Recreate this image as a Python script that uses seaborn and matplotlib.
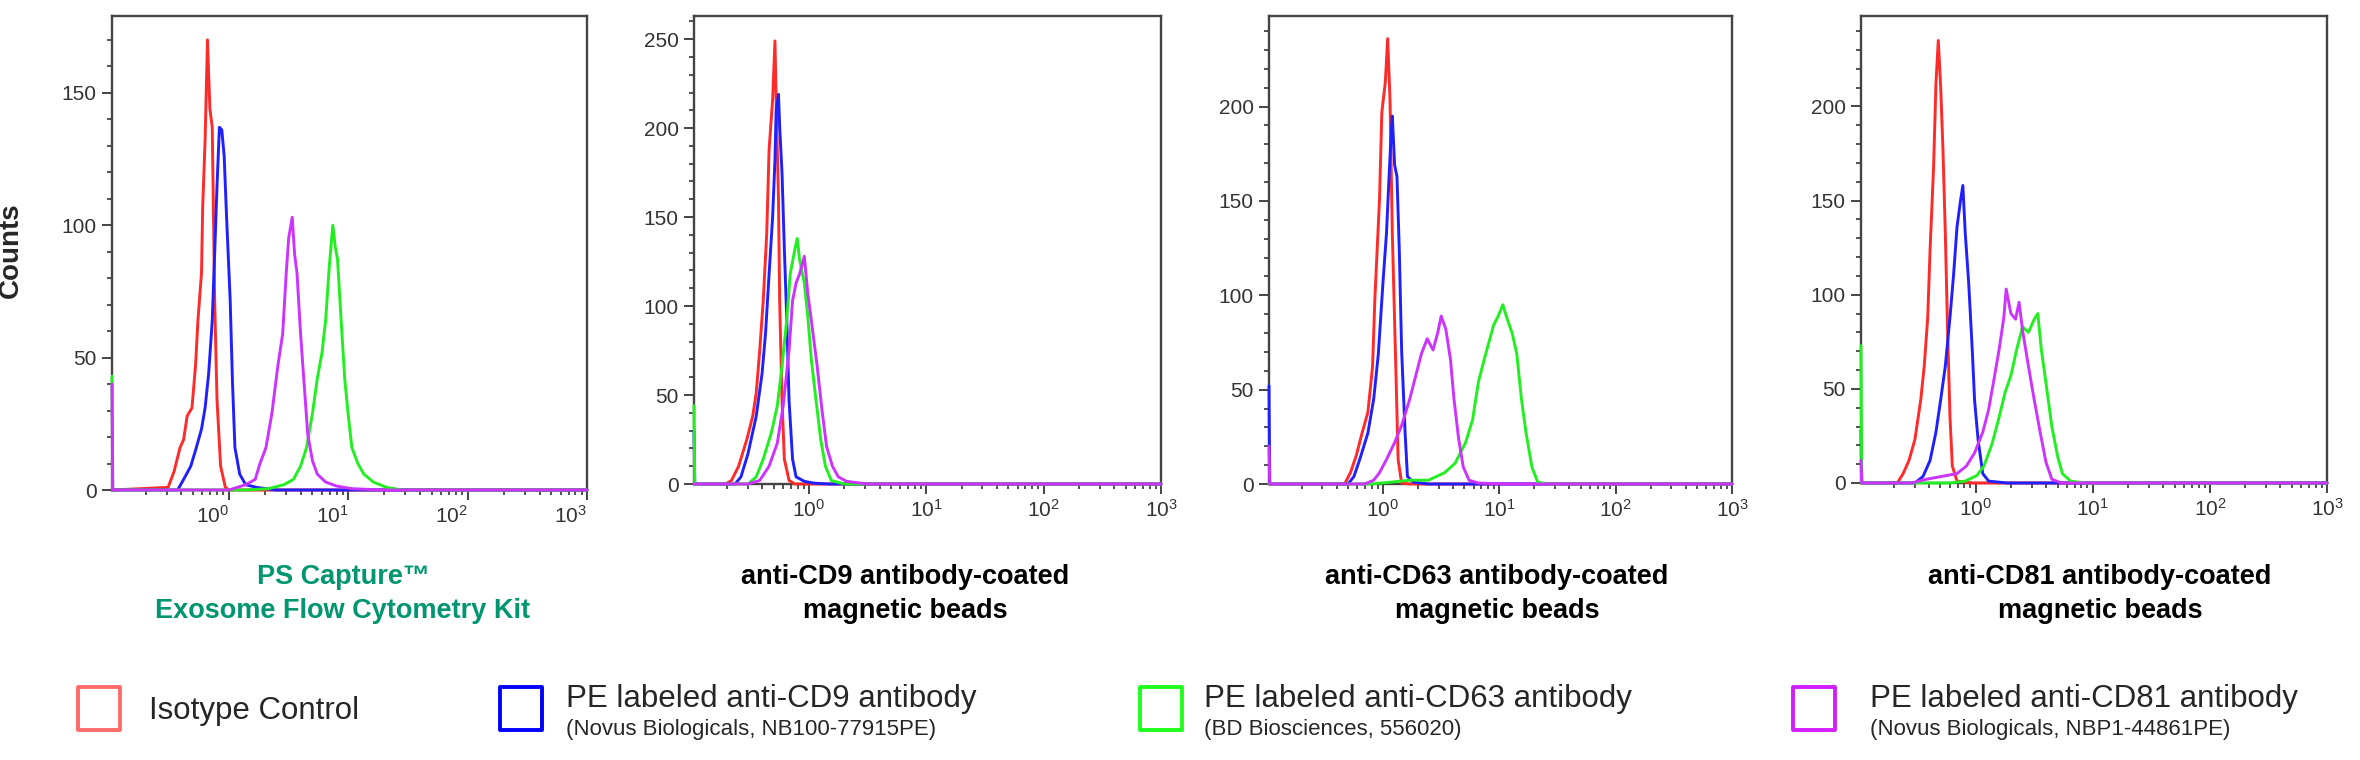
import matplotlib.pyplot as plt
from matplotlib.patches import Rectangle
from matplotlib.ticker import MultipleLocator
import numpy as np
import pandas as pd
import seaborn as sns

# --- data: log10(fluorescence) and counts ---
# panel 1: PS Capture kit
p1_iso_log = [-0.51, -0.46, -0.41, -0.38, -0.35, -0.31, -0.28, -0.26, -0.23, -0.22, -0.20, -0.18, -0.16, -0.14, -0.12, -0.10, -0.07, -0.03, 0.0]
p1_iso_cnt = [1, 7, 16, 19, 28, 31, 47, 64, 82, 107, 132, 170, 144, 137, 72, 34, 9, 1, 0]
p1_cd9_log = [-0.43, -0.38, -0.32, -0.28, -0.23, -0.20, -0.17, -0.14, -0.12, -0.10, -0.08, -0.06, -0.04, -0.02, 0.01, 0.03, 0.05, 0.09, 0.14, 0.23, 0.39, 0.65]
p1_cd9_cnt = [0, 4, 9, 15, 23, 31, 44, 64, 89, 115, 137, 136, 126, 103, 72, 40, 16, 6, 2, 1, 0, 0]
p1_cd63_log = [0.14, 0.33, 0.46, 0.54, 0.60, 0.65, 0.70, 0.74, 0.78, 0.81, 0.84, 0.87, 0.89, 0.91, 0.94, 0.97, 1.00, 1.03, 1.08, 1.13, 1.21, 1.32, 1.45, 1.61]
p1_cd63_cnt = [0, 0.5, 2, 4, 9, 16, 29, 42, 52, 64, 84, 100, 92, 87, 64, 42, 28, 16, 10, 6, 3, 1, 0, 0]
p1_cd81_log = [0.0, 0.14, 0.22, 0.26, 0.31, 0.36, 0.41, 0.45, 0.48, 0.50, 0.53, 0.55, 0.57, 0.60, 0.63, 0.66, 0.70, 0.74, 0.81, 0.90, 1.03, 1.29]
p1_cd81_cnt = [0, 2, 4, 10, 16, 29, 47, 59, 82, 95, 103, 89, 82, 59, 40, 21, 11, 6, 3, 1.5, 0.5, 0]
p1_edge = [0, 0, 43, 40]

# panel 2: anti-CD9 beads
p2_iso_log = [-0.71, -0.66, -0.60, -0.53, -0.48, -0.45, -0.42, -0.39, -0.36, -0.34, -0.31, -0.29, -0.28, -0.26, -0.25, -0.23, -0.21, -0.17, -0.12]
p2_iso_cnt = [0, 2, 10, 25, 38, 51, 75, 103, 141, 188, 216, 249, 216, 160, 103, 47, 14, 2, 0]
p2_cd9_log = [-0.63, -0.58, -0.52, -0.45, -0.40, -0.37, -0.34, -0.31, -0.29, -0.28, -0.26, -0.25, -0.23, -0.21, -0.19, -0.17, -0.14, -0.11, -0.04, 0.04, 0.17]
p2_cd9_cnt = [0, 4, 17, 38, 62, 85, 118, 150, 182, 210, 219, 201, 175, 132, 94, 47, 14, 4, 1.5, 0.5, 0]
p2_cd63_log = [-0.52, -0.45, -0.39, -0.32, -0.27, -0.23, -0.19, -0.16, -0.12, -0.10, -0.08, -0.04, -0.01, 0.02, 0.06, 0.10, 0.14, 0.19, 0.30]
p2_cd63_cnt = [0, 4, 14, 29, 44, 66, 92, 118, 132, 138, 126, 113, 94, 70, 47, 25, 10, 2, 0]
p2_cd81_log = [-0.52, -0.42, -0.34, -0.27, -0.22, -0.17, -0.14, -0.11, -0.08, -0.04, -0.01, 0.02, 0.07, 0.11, 0.15, 0.20, 0.25, 0.32, 0.50]
p2_cd81_cnt = [0, 2, 10, 23, 44, 75, 103, 113, 118, 128, 107, 92, 66, 42, 21, 10, 4, 1.5, 0]
p2_edge = [0, 30, 44, 0]

# panel 3: anti-CD63 beads
p3_iso_log = [-0.33, -0.28, -0.23, -0.18, -0.13, -0.09, -0.07, -0.03, -0.01, 0.02, 0.04, 0.06, 0.08, 0.11, 0.13, 0.16, 0.23]
p3_iso_cnt = [0, 6, 15, 27, 38, 62, 98, 151, 197, 213, 236, 204, 133, 62, 13, 0.5, 0]
p3_cd9_log = [-0.30, -0.25, -0.20, -0.13, -0.08, -0.04, 0.0, 0.03, 0.05, 0.07, 0.08, 0.10, 0.12, 0.14, 0.16, 0.19, 0.21, 0.26, 0.39]
p3_cd9_cnt = [0, 4, 13, 27, 45, 69, 107, 133, 160, 186, 195, 169, 163, 124, 71, 27, 4, 1, 0]
p3_cd63_log = [-0.10, 0.07, 0.23, 0.39, 0.53, 0.62, 0.71, 0.77, 0.82, 0.87, 0.91, 0.95, 0.99, 1.03, 1.07, 1.11, 1.15, 1.19, 1.23, 1.28, 1.33, 1.41]
p3_cd63_cnt = [0, 1, 2, 2, 6, 11, 22, 34, 54, 66, 75, 84, 89, 95, 87, 80, 69, 45, 27, 9, 1, 0]
p3_cd81_log = [-0.16, -0.08, -0.03, 0.03, 0.10, 0.16, 0.23, 0.28, 0.33, 0.38, 0.43, 0.47, 0.50, 0.54, 0.58, 0.61, 0.65, 0.69, 0.74, 0.82, 1.05]
p3_cd81_cnt = [0, 2, 6, 13, 22, 31, 45, 57, 69, 77, 71, 80, 89, 82, 66, 45, 24, 9, 2, 0.5, 0]
p3_edge = [0, 52, 0, 20]

# panel 4: anti-CD81 beads
p4_iso_log = [-0.67, -0.62, -0.57, -0.52, -0.47, -0.44, -0.41, -0.39, -0.36, -0.34, -0.32, -0.30, -0.28, -0.26, -0.24, -0.22, -0.20, -0.16, -0.03]
p4_iso_cnt = [0, 5, 12, 23, 44, 62, 88, 124, 168, 212, 235, 211, 177, 133, 80, 35, 9, 1, 0]
p4_cd9_log = [-0.52, -0.45, -0.39, -0.34, -0.30, -0.26, -0.22, -0.19, -0.16, -0.13, -0.11, -0.09, -0.06, -0.03, -0.01, 0.02, 0.06, 0.11, 0.27]
p4_cd9_cnt = [0, 3.5, 12, 27, 44, 62, 88, 110, 136, 150, 158, 133, 106, 71, 44, 23, 5, 1, 0]
p4_cd63_log = [-0.22, -0.09, 0.01, 0.07, 0.14, 0.20, 0.25, 0.30, 0.35, 0.40, 0.45, 0.50, 0.53, 0.56, 0.60, 0.65, 0.70, 0.74, 0.81, 0.93]
p4_cd63_cnt = [0, 1, 4, 9, 21, 35, 48, 57, 71, 83, 80, 87, 90, 71, 53, 30, 14, 5, 1, 0]
p4_cd81_log = [-0.55, -0.42, -0.29, -0.16, -0.08, -0.01, 0.06, 0.11, 0.15, 0.20, 0.24, 0.26, 0.30, 0.34, 0.37, 0.40, 0.45, 0.50, 0.55, 0.60, 0.65, 0.73]
p4_cd81_cnt = [0, 2, 3.5, 5, 9, 16, 27, 39, 53, 71, 88, 103, 90, 87, 96, 81, 62, 44, 27, 11, 2, 0]
p4_edge = [0, 28, 73, 12]

panel_titles = ["PS Capture\u2122\nExosome Flow Cytometry Kit",
                "anti-CD9 antibody-coated\nmagnetic beads",
                "anti-CD63 antibody-coated\nmagnetic beads",
                "anti-CD81 antibody-coated\nmagnetic beads"]
y_tops = [179, 263, 248, 248]
legend_names = ["Isotype Control", "PE labeled anti-CD9 antibody",
                "PE labeled anti-CD63 antibody", "PE labeled anti-CD81 antibody"]
legend_sources = ["", "(Novus Biologicals, NB100-77915PE)",
                  "(BD Biosciences, 556020)", "(Novus Biologicals, NBP1-44861PE)"]

line_colors = ["#FF2A2A", "#2020FF", "#22EE22", "#CC33FF"]
box_colors = ["#FF6B6B", "#0000FF", "#1EFF1E", "#D21EFF"]

panels = [
    ([p1_iso_log, p1_cd9_log, p1_cd63_log, p1_cd81_log], [p1_iso_cnt, p1_cd9_cnt, p1_cd63_cnt, p1_cd81_cnt], p1_edge),
    ([p2_iso_log, p2_cd9_log, p2_cd63_log, p2_cd81_log], [p2_iso_cnt, p2_cd9_cnt, p2_cd63_cnt, p2_cd81_cnt], p2_edge),
    ([p3_iso_log, p3_cd9_log, p3_cd63_log, p3_cd81_log], [p3_iso_cnt, p3_cd9_cnt, p3_cd63_cnt, p3_cd81_cnt], p3_edge),
    ([p4_iso_log, p4_cd9_log, p4_cd63_log, p4_cd81_log], [p4_iso_cnt, p4_cd9_cnt, p4_cd63_cnt, p4_cd81_cnt], p4_edge),
]

X_LO, X_HI = 10 ** -0.98, 1000.0
W, H = 2360, 760


def histo_frame(logs, cnts, edge):
    # first channel pile-up at the left edge, then the histogram itself
    x = np.concatenate([[X_LO, X_LO * 1.015], 10 ** np.asarray(logs, float), [X_HI]])
    y = np.concatenate([[edge, 0], np.asarray(cnts, float), [0]])
    return pd.DataFrame({"intensity": x, "counts": y})


sns.set_style("ticks")
plt.rcParams["font.family"] = ["Liberation Sans", "DejaVu Sans"]

fig = plt.figure(figsize=(W / 100, H / 100), dpi=100)

# axes boxes in pixels: left, top, right, bottom
boxes = [(112, 16, 587, 490), (694, 16, 1161, 484), (1269, 16, 1732, 484), (1861, 16, 2327, 483)]
title_x = [343, 905, 1497, 2100]

for i, (logs, cnts, edges) in enumerate(panels):
    l, t, r, b = boxes[i]
    ax = fig.add_axes([l / W, 1 - b / H, (r - l) / W, (b - t) / H])
    for k in range(4):
        df = histo_frame(logs[k], cnts[k], edges[k])
        sns.lineplot(data=df, x="intensity", y="counts", ax=ax, color=line_colors[k],
                     lw=2.1, sort=False, estimator=None, zorder=3, clip_on=False)
    ax.set_xscale("log")
    ax.set_xlim(X_LO, X_HI)
    ax.set_ylim(0, y_tops[i])
    ax.yaxis.set_major_locator(MultipleLocator(50))
    ax.yaxis.set_minor_locator(MultipleLocator(10))
    ax.set_xlabel("")
    ax.set_ylabel("")
    for sp in ax.spines.values():
        sp.set_visible(True)
        sp.set_linewidth(1.7)
        sp.set_color("#444444")
    ax.tick_params(which="major", direction="out", length=7, width=1.4, color="#444444",
                   labelsize=15, labelcolor="#333333", pad=4)
    ax.tick_params(which="minor", direction="out", length=3.5, width=1.3, color="#444444")
    if i == 0:
        plt.setp(ax.get_xticklabels(), ha="right")
    fig.text(title_x[i] / W, 1 - 594 / H, panel_titles[i], ha="center", va="center",
             fontsize=19.5, fontweight="bold", linespacing=1.4,
             color="#009670" if i == 0 else "black")

fig.text(11 / W, 1 - 250 / H, "Counts", rotation=90, ha="center", va="center",
         fontsize=20, fontweight="bold")

# legend row
box_x = [78, 500, 1140, 1793]
text_x = [149, 566, 1204, 1870]
for k in range(4):
    fig.add_artist(Rectangle((box_x[k] / W, 1 - 730 / H), 42 / W, 43 / H,
                             transform=fig.transFigure, fill=False,
                             edgecolor=box_colors[k], lw=2.8, joinstyle="round"))
    if legend_sources[k]:
        fig.text(text_x[k] / W, 1 - 707 / H, legend_names[k], ha="left", va="baseline", fontsize=22.5)
        fig.text(text_x[k] / W, 1 - 735 / H, legend_sources[k], ha="left", va="baseline", fontsize=16)
    else:
        fig.text(text_x[k] / W, 1 - 719 / H, legend_names[k], ha="left", va="baseline", fontsize=22.5)

fig.savefig("out.png", dpi=100)
